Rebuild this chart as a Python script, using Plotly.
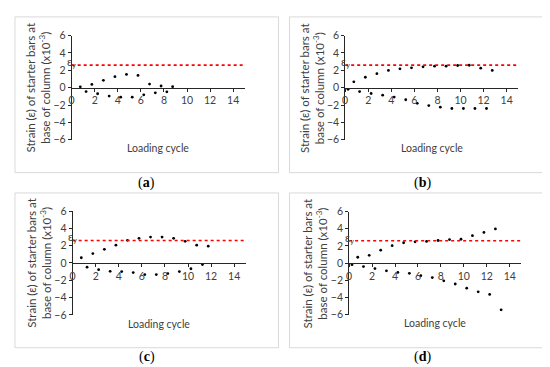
import plotly.graph_objects as go

# loading cycle positions and strain readings (x10^-3) for each specimen
cycle_a = [0.75, 1.25, 1.75, 2.25, 2.75, 3.25, 3.75, 4.25, 4.75, 5.25, 5.75, 6.25, 6.75, 7.25, 7.75, 8.25, 8.75]
strain_a = [0.1, -0.45, 0.37, -0.7, 0.85, -0.97, 1.26, -1.1, 1.52, -1.1, 1.41, -0.82, 0.41, -0.6, 0.19, -0.48, 0.11]

cycle_b = [0.25, 0.75, 1.25, 1.75, 2.25, 2.75, 3.25, 3.75, 4.25, 4.75, 5.25, 5.75, 6.25,
           6.75, 7.25, 7.75, 8.25, 8.75, 9.25, 9.75, 10.25, 10.75, 11.25, 11.75, 12.25, 12.75]
strain_b = [-0.19, 0.67, -0.45, 1.2, -0.67, 1.61, -0.86, 1.98, -1.09, 2.17, -1.39, 2.28, -1.8,
            2.4, -2.06, 2.47, -2.25, 2.47, -2.4, 2.55, -2.4, 2.58, -2.4, 2.25, -2.4, 1.98]

cycle_c = [0.75, 1.25, 1.75, 2.25, 2.75, 3.25, 3.75, 4.25, 4.75, 5.25, 5.75, 6.25,
           6.75, 7.25, 7.75, 8.25, 8.75, 9.25, 9.75, 10.25, 10.75, 11.25, 11.75]
strain_c = [0.6, -0.49, 1.08, -0.78, 1.57, -0.97, 2.05, -1.0, 2.61, -1.12, 2.84, -1.34,
            2.99, -1.34, 2.99, -1.23, 2.84, -1.0, 2.5, -0.67, 2.05, -0.19, 1.94]

cycle_d = [0.25, 0.75, 1.25, 1.75, 2.25, 2.75, 3.25, 3.75, 4.25, 4.75, 5.25, 5.75, 6.25, 6.75,
           7.25, 7.75, 8.25, 8.75, 9.25, 9.75, 10.25, 10.75, 11.25, 11.75, 12.25, 12.75, 13.25]
strain_d = [-0.19, 0.68, -0.41, 0.9, -0.64, 1.5, -0.9, 2.03, -1.09, 2.37, -1.2, 2.48, -1.47, 2.52,
            -1.69, 2.63, -2.07, 2.74, -2.44, 2.78, -2.93, 3.2, -3.35, 3.57, -3.65, 3.98, -5.45]

yield_strain = 2.6
x_ticks = [0, 2, 4, 6, 8, 10, 12, 14]
y_ticks = [-6, -4, -2, 0, 2, 4, 6]
panel_labels = ["a", "b", "c", "d"]

W, H = 550, 367
FONT = "Lato"
GREY = "#404040"

# pixel boxes of each plot area: (left, right, top, bottom)
areas = [(61, 235, 22.3, 130), (336, 510, 22.3, 130),
         (62, 236, 203.7, 311), (340, 513, 204.3, 310.7)]
frames = [(4, 269, 3, 164), (280, 548, 3, 164), (4, 269, 185, 345), (280, 548, 185, 345)]
label_y = [175, 175, 355, 355]

series = [(cycle_a, strain_a), (cycle_b, strain_b), (cycle_c, strain_c), (cycle_d, strain_d)]

fig = go.Figure()
layout = dict(width=W, height=H, margin=dict(l=0, r=0, t=0, b=0),
              paper_bgcolor="white", plot_bgcolor="white", showlegend=False,
              font=dict(family=FONT, color=GREY))
shapes, annotations = [], []

for i, ((xs, ys), (l, r, t, b)) in enumerate(zip(series, areas)):
    n = "" if i == 0 else str(i + 1)
    ydom = [1 - b / H, 1 - t / H]
    xdom = [l / W, r / W]
    fig.add_trace(go.Scatter(x=xs, y=ys, mode="markers", xaxis="x" + n, yaxis="y" + n,
                             marker=dict(color="black", size=2.8)))
    fig.add_trace(go.Scatter(x=[0, 15], y=[yield_strain, yield_strain], mode="lines",
                             xaxis="x" + n, yaxis="y" + n,
                             line=dict(color="#ff0000", width=1.6, dash="dot")))
    layout["xaxis" + n] = dict(domain=xdom, range=[0, 15], tickvals=x_ticks, anchor="free",
                               position=(ydom[0] + ydom[1]) / 2, showline=True, linecolor="#262626",
                               linewidth=1, ticks="outside", ticklen=3, tickcolor="#262626",
                               showgrid=False, zeroline=False, tickfont=dict(size=10.5, color=GREY))
    layout["yaxis" + n] = dict(domain=ydom, range=[-6, 6], tickvals=y_ticks, anchor="x" + n,
                               showline=True, linecolor="#262626", linewidth=1, ticks="outside",
                               ticklen=3, tickcolor="#262626", showgrid=False, zeroline=False,
                               tickfont=dict(size=10.5, color=GREY))
    annotations.append(dict(text="ε<sub>y</sub>", xref="x" + n + " domain", yref="y" + n,
                            x=0, y=yield_strain + 0.3, showarrow=False, xanchor="center",
                            font=dict(size=11, color=GREY)))
    annotations.append(dict(text="Loading cycle", xref="paper", yref="paper",
                            x=(l + r) / 2 / W, y=1 - (b + 9) / H, showarrow=False,
                            xanchor="center", yanchor="middle", font=dict(size=10.5, color=GREY)))
    annotations.append(dict(text="Strain (ε) of starter bars at<br>base of column (x10<sup>-3</sup>)",
                            xref="paper", yref="paper", x=(l - 34) / W, y=1 - (t + b) / 2 / H,
                            textangle=-90, showarrow=False, xanchor="center", yanchor="middle",
                            font=dict(size=11.5, color=GREY)))
    fl, fr, ft, fb = frames[i]
    shapes.append(dict(type="rect", xref="paper", yref="paper", x0=fl / W, x1=fr / W,
                       y0=1 - fb / H, y1=1 - ft / H, line=dict(color="#d9d9d9", width=1)))
    annotations.append(dict(text="(<b>" + panel_labels[i] + "</b>)", xref="paper", yref="paper",
                            x=(fl + fr) / 2 / W, y=1 - label_y[i] / H, showarrow=False,
                            xanchor="center", yanchor="middle",
                            font=dict(family="Liberation Serif", size=14, color="black")))

layout["shapes"] = shapes
layout["annotations"] = annotations
fig.update_layout(**layout)
fig.write_html("out.html")
